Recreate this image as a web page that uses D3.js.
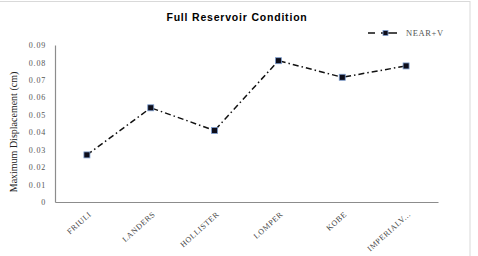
<!doctype html>
<html>
  <head>
    <meta charset="utf-8">
    <title>Full Reservoir Condition</title>
    <script src="https://cdnjs.cloudflare.com/ajax/libs/d3/7.8.5/d3.min.js"></script>
    <style>
      body { margin: 0; background: #fff; }
      svg { display: block; }
    </style>
  </head>
  <body>
    <div id="chart"></div>
    <script>
      // data
      const quakes = ['FRIULI', 'LANDERS', 'HOLLISTER', 'LOMPER', 'KOBE', 'IMPERIALV...'];
      const nearV = [0.027, 0.054, 0.041, 0.081, 0.0715, 0.078];
      const yTicks = [0, 0.01, 0.02, 0.03, 0.04, 0.05, 0.06, 0.07, 0.08, 0.09];

      const W = 478, H = 256;
      const plotL = 55, plotR = 438, plotT = 45, plotB = 202;

      const svg = d3.select('#chart').append('svg')
        .attr('width', W)
        .attr('height', H);

      // frame
      svg.append('rect')
        .attr('x', -1).attr('y', 1.5)
        .attr('width', 471).attr('height', 260)
        .attr('fill', 'none')
        .attr('stroke', '#d9d9d9');

      const x = d3.scaleBand().domain(quakes).range([plotL, plotR]);
      const y = d3.scaleLinear().domain([0, 0.09]).range([plotB, plotT]);

      // y axis
      const yAxis = svg.append('g')
        .attr('transform', `translate(${plotL},0)`)
        .call(d3.axisLeft(y).tickValues(yTicks).tickSize(0).tickPadding(9)
          .tickFormat(d => d === 0 ? '0' : d3.format('.2f')(d)));
      yAxis.select('.domain').attr('stroke', '#8c8c8c').attr('stroke-width', 1.2);
      yAxis.selectAll('text')
        .attr('font-family', 'Liberation Serif, serif')
        .attr('font-size', 8)
        .attr('letter-spacing', 0.8)
        .attr('fill', '#555');

      // x axis
      const xAxis = svg.append('g')
        .attr('transform', `translate(0,${plotB})`)
        .call(d3.axisBottom(x).tickSize(0).tickPadding(0));
      xAxis.select('.domain').attr('stroke', '#8c8c8c').attr('stroke-width', 1.2);
      xAxis.selectAll('text')
        .attr('font-family', 'Liberation Serif, serif')
        .attr('font-size', 8)
        .attr('letter-spacing', 0.6)
        .attr('fill', '#444')
        .attr('text-anchor', 'end')
        .attr('dy', 0)
        .attr('transform', 'translate(5,13) rotate(-42)');

      // line
      const line = d3.line()
        .x((d, i) => x(quakes[i]) + x.bandwidth() / 2)
        .y(d => y(d));

      svg.append('path')
        .datum(nearV)
        .attr('d', line)
        .attr('fill', 'none')
        .attr('stroke', '#111')
        .attr('stroke-width', 1.5)
        .attr('stroke-dasharray', '6,3,1.5,3');

      svg.selectAll('rect.pt')
        .data(nearV)
        .join('rect')
        .attr('class', 'pt')
        .attr('x', (d, i) => x(quakes[i]) + x.bandwidth() / 2 - 3)
        .attr('y', d => y(d) - 3)
        .attr('width', 6)
        .attr('height', 6)
        .attr('fill', '#0d0d1a')
        .attr('stroke', '#7f9fd0')
        .attr('stroke-width', 0.8);

      // title
      svg.append('text')
        .attr('x', 237)
        .attr('y', 20.5)
        .attr('text-anchor', 'middle')
        .attr('font-family', 'Liberation Sans, Arial, sans-serif')
        .attr('font-weight', 'bold')
        .attr('font-size', 10.5)
        .attr('letter-spacing', 0.8)
        .text('Full Reservoir Condition');

      // y label
      svg.append('text')
        .attr('transform', `translate(17,132) rotate(-90)`)
        .attr('text-anchor', 'middle')
        .attr('font-family', 'Liberation Serif, serif')
        .attr('font-size', 10)
        .attr('fill', '#222')
        .text('Maximum Displacement (cm)');

      // legend
      const lg = svg.append('g').attr('transform', 'translate(368,33)');
      lg.append('line')
        .attr('x1', 0).attr('x2', 29)
        .attr('stroke', '#111').attr('stroke-width', 1.5)
        .attr('stroke-dasharray', '7,6,16');
      lg.append('rect')
        .attr('x', 15).attr('y', -2.5).attr('width', 5).attr('height', 5)
        .attr('fill', '#0d0d1a').attr('stroke', '#7f9fd0').attr('stroke-width', 0.8);
      lg.append('text')
        .attr('x', 38).attr('y', 3)
        .attr('font-family', 'Liberation Serif, serif')
        .attr('font-size', 8.5)
        .attr('letter-spacing', 0.6)
        .attr('fill', '#555')
        .text('NEAR+V');
    </script>
  </body>
</html>
